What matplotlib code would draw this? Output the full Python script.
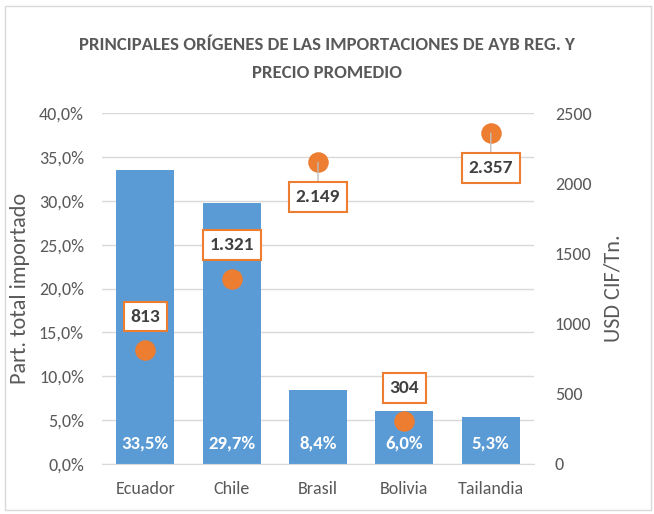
import matplotlib
matplotlib.use('Agg')
from matplotlib import pyplot as plt
import numpy as np

# Datos
paises = ['Ecuador', 'Chile', 'Brasil', 'Bolivia', 'Tailandia']
participacion = [33.5, 29.7, 8.4, 6.0, 5.3]
precio = [813, 1321, 2149, 304, 2357]
etiquetas_precio = ['813', '1.321', '2.149', '304', '2.357']
# posicion de la etiqueta del precio: arriba (1) o abajo (-1) del punto
lado_etiqueta = [1, 1, -1, 1, -1]

plt.rcParams['font.family'] = ['Carlito', 'DejaVu Sans']

azul = '#5B9BD5'
naranja = '#ED7D31'
gris = '#595959'

fig = plt.figure(figsize=(6.54, 5.14), dpi=100)
ax = fig.add_axes([102/654, 50/514, 432/654, 351/514])
ax2 = ax.twinx()

x = np.arange(len(paises))
ax.bar(x, participacion, width=0.67, color=azul, zorder=2)
ax.set_xlim(-0.5, len(paises) - 0.5)
ax.set_ylim(0, 40)
ax.set_yticks(np.arange(0, 41, 5))
ax.set_yticklabels([f'{v:.1f}%'.replace('.', ',') for v in np.arange(0, 41, 5)])
ax.yaxis.grid(True, color='#D9D9D9', lw=1)
ax.set_axisbelow(True)
ax.set_xticks(x)
ax.set_xticklabels(paises)
for s in ax.spines.values():
    s.set_visible(False)
for s in ax2.spines.values():
    s.set_visible(False)
ax.spines['bottom'].set_visible(True)
ax.spines['bottom'].set_color('#D9D9D9')
ax.tick_params(length=0, labelsize=13, labelcolor=gris)
ax.tick_params(axis='y', pad=13)
ax.tick_params(axis='x', pad=12)

for xi, v in zip(x, participacion):
    ax.text(xi, 2.3, f'{v:.1f}%'.replace('.', ','), ha='center', va='center',
            color='white', fontsize=13.5, fontweight='bold', zorder=4)

ax2.set_ylim(0, 2500)
ax2.set_yticks(np.arange(0, 2501, 500))
ax2.tick_params(length=0, labelsize=13, labelcolor=gris, pad=15)
ax2.scatter(x, precio, s=190, color=naranja, zorder=5)

for xi, p, lab, lado in zip(x, precio, etiquetas_precio, lado_etiqueta):
    dy = 24 if lado > 0 else -25
    props = dict(arrowstyle='-', color='#BFBFBF', lw=1, shrinkA=0, shrinkB=0) if lado < 0 else None
    ax2.annotate(lab, xy=(xi, p), xytext=(0, dy), textcoords='offset points',
                 ha='center', va='center', fontsize=14, fontweight='bold', color='#404040',
                 bbox=dict(boxstyle='square,pad=0.35', fc='white', ec=naranja, lw=1.5),
                 arrowprops=props, zorder=6)

ax.set_ylabel('Part. total importado', fontsize=16, color=gris)
ax.yaxis.set_label_coords((30 - 102) / 432, 0.5)
ax2.set_ylabel('USD CIF/Tn.', fontsize=16, color=gris)
ax2.yaxis.set_label_coords((603 - 102) / 432, 0.5)

fig.text(0.5, 1 - 45/514, 'PRINCIPALES ORÍGENES DE LAS IMPORTACIONES DE AYB REG. Y',
         ha='center', va='center', fontsize=13.5, fontweight='bold', color=gris)
fig.text(0.5, 1 - 73/514, 'PRECIO PROMEDIO',
         ha='center', va='center', fontsize=13.5, fontweight='bold', color=gris)

fig.patches.append(plt.Rectangle((5/654, 4/514), 646/654, 504/514, transform=fig.transFigure,
                                 fill=False, ec='#D9D9D9', lw=1))

fig.savefig('out.png', dpi=100)
